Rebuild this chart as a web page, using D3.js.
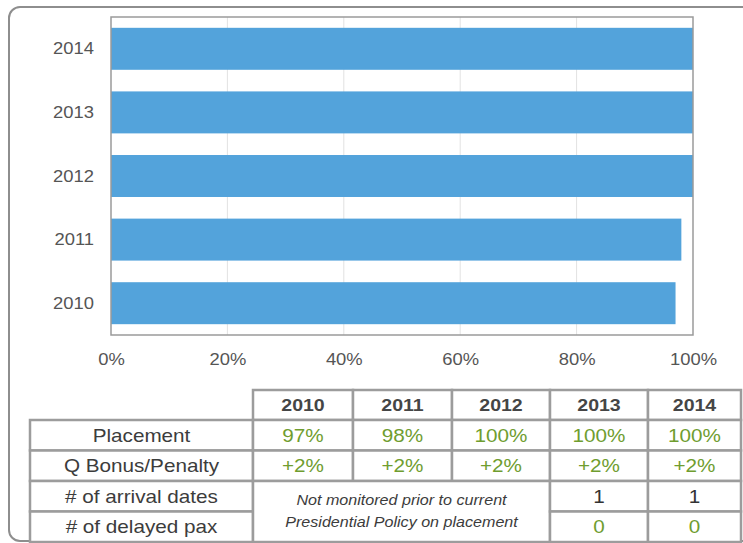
<!DOCTYPE html>
<html>
<head>
<meta charset="utf-8">
<script src="https://cdn.jsdelivr.net/npm/d3@7"></script>
<style>
html,body{margin:0;padding:0;background:#fff;}
svg{display:block;font-family:"Liberation Sans",Arial,Helvetica,sans-serif;}
</style>
</head>
<body>
<svg id="chart" width="743" height="543"></svg>
<script>
// ---- data ----
const years = ["2010", "2011", "2012", "2013", "2014"];
const placement = [97, 98, 100, 100, 100];
const bonus = ["+2%", "+2%", "+2%", "+2%", "+2%"];
const arrivalDates = [null, null, null, 1, 1];
const delayedPax = [null, null, null, 0, 0];
const rowLabels = ["Placement", "Q Bonus/Penalty", "# of arrival dates", "# of delayed pax"];
const xTicks = [0, 0.2, 0.4, 0.6, 0.8, 1.0];
const noteLines = ["Not monitored prior to current", "Presidential Policy on placement"];

const SX = 1.15; // horizontal stretch of the original picture
const svg = d3.select("#chart");

// outer rounded frame
svg.append("rect").attr("x", 9).attr("y", 7).attr("width", 770).attr("height", 534)
  .attr("rx", 11).attr("fill", "none").attr("stroke", "#8e8e8e").attr("stroke-width", 2);

// ---- bar chart ----
const plot = {left: 111, right: 693, top: 17, bottom: 335};
const x = d3.scaleLinear().domain([0, 1]).range([plot.left, plot.right]);
const y = d3.scaleBand().domain(years.slice().reverse()).range([plot.top, plot.bottom])
  .paddingInner(0.34).paddingOuter(0.17);

// gridlines
svg.append("g").selectAll("line").data(xTicks.slice(1, -1)).join("line")
  .attr("x1", d => x(d)).attr("x2", d => x(d))
  .attr("y1", plot.top).attr("y2", plot.bottom)
  .attr("stroke", "#e2e2e2").attr("stroke-width", 1);

// bars
svg.append("g").selectAll("rect").data(years).join("rect")
  .attr("x", x(0))
  .attr("y", d => y(d))
  .attr("width", (d, i) => x(placement[i] / 100) - x(0))
  .attr("height", y.bandwidth())
  .attr("fill", "#53a3db");

// plot border
svg.append("rect").attr("x", plot.left).attr("y", plot.top)
  .attr("width", plot.right - plot.left).attr("height", plot.bottom - plot.top)
  .attr("fill", "none").attr("stroke", "#9a9a9a").attr("stroke-width", 1.5);

// x axis
const xAxis = svg.append("g").attr("transform", `translate(0,${plot.bottom})`)
  .call(d3.axisBottom(x).tickValues(xTicks).tickFormat(d3.format(".0%")).tickSize(0));
xAxis.select(".domain").remove();
xAxis.selectAll("text").attr("y", 24).attr("dy", "0.35em")
  .attr("font-size", 16).attr("fill", "#555")
  .attr("font-family", "Liberation Sans, Arial, sans-serif")
  .attr("transform", `scale(${SX},1)`);

// y axis
const yAxis = svg.append("g").attr("transform", `translate(${plot.left},0)`)
  .call(d3.axisLeft(y).tickSize(0));
yAxis.select(".domain").remove();
yAxis.selectAll("text").attr("x", -17 / SX).attr("dy", "0.35em")
  .attr("font-size", 16).attr("fill", "#555")
  .attr("font-family", "Liberation Sans, Arial, sans-serif")
  .attr("transform", `scale(${SX},1)`);

// ---- table ----
const colEdges = [30, 253, 353, 452, 550, 648, 741];
const rowEdges = [390, 420, 450.5, 481, 511.5, 542];
const border = "#9c9c9c";
const bw = 2.5;
const tbl = svg.append("g");

function txt(cx, cy, str, size, opts = {}) {
  tbl.append("text")
    .attr("transform", `translate(${cx},${cy}) scale(${SX},1)`)
    .attr("text-anchor", "middle").attr("dy", "0.35em")
    .attr("font-size", size)
    .attr("font-weight", opts.bold ? "bold" : "normal")
    .attr("font-style", opts.italic ? "italic" : "normal")
    .attr("fill", opts.color || "#404040")
    .text(str);
}
function cell(x0, y0, x1, y1) {
  tbl.append("rect").attr("x", x0).attr("y", y0).attr("width", x1 - x0).attr("height", y1 - y0)
    .attr("fill", "#fff").attr("stroke", border).attr("stroke-width", bw);
}
const cx = i => (colEdges[i] + colEdges[i + 1]) / 2;
const cy = r => (rowEdges[r] + rowEdges[r + 1]) / 2;
const green = "#6f9d2f";

// header row
years.forEach((yr, i) => {
  cell(colEdges[i + 1], rowEdges[0], colEdges[i + 2], rowEdges[1]);
  txt(cx(i + 1), cy(0), yr, 17, {bold: true, color: "#454545"});
});
// label column
rowLabels.forEach((lab, r) => {
  cell(colEdges[0], rowEdges[r + 1], colEdges[1], rowEdges[r + 2]);
  txt(cx(0), cy(r + 1), lab, 18, {color: "#3c3c3c"});
});
// placement & bonus rows
years.forEach((yr, i) => {
  cell(colEdges[i + 1], rowEdges[1], colEdges[i + 2], rowEdges[2]);
  txt(cx(i + 1), cy(1), placement[i] + "%", 18, {color: green});
  cell(colEdges[i + 1], rowEdges[2], colEdges[i + 2], rowEdges[3]);
  txt(cx(i + 1), cy(2), bonus[i], 18, {color: green});
});
// arrival / delayed rows
const firstMonitored = arrivalDates.findIndex(v => v !== null);
cell(colEdges[1], rowEdges[3], colEdges[firstMonitored + 1], rowEdges[5]);
const noteCx = (colEdges[1] + colEdges[firstMonitored + 1]) / 2;
txt(noteCx, 500, noteLines[0], 14, {italic: true, color: "#3c3c3c"});
txt(noteCx, 522, noteLines[1], 14, {italic: true, color: "#3c3c3c"});
years.forEach((yr, i) => {
  if (arrivalDates[i] === null) return;
  cell(colEdges[i + 1], rowEdges[3], colEdges[i + 2], rowEdges[4]);
  txt(cx(i + 1), cy(3), arrivalDates[i], 18, {color: "#333"});
  cell(colEdges[i + 1], rowEdges[4], colEdges[i + 2], rowEdges[5]);
  txt(cx(i + 1), cy(4), delayedPax[i], 18, {color: green});
});
</script>
</body>
</html>
